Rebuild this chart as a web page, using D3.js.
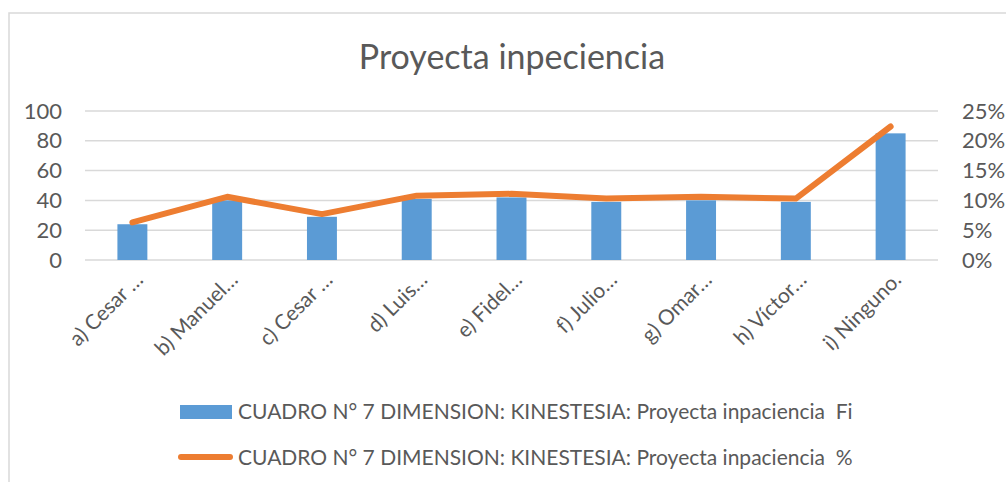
<!DOCTYPE html>
<html>
<head>
<meta charset="utf-8">
<script src="https://cdn.jsdelivr.net/npm/d3@7"></script>
<style>
  body { margin: 0; background: #fff; }
  text { font-family: Lato, "Open Sans", sans-serif; fill: #595959; white-space: pre; }
</style>
</head>
<body>
<svg id="chart" width="1006" height="482"></svg>
<script>
// data
var categories = ["a) Cesar \u2026", "b) Manuel\u2026", "c) Cesar \u2026", "d) Luis\u2026", "e) Fidel\u2026",
                  "f) Julio\u2026", "g) Omar\u2026", "h) V\u00edctor\u2026", "i) Ninguno."];
var fiValues = [24, 40, 29, 41, 42, 39, 40, 39, 85];
var pctValues = [6.3, 10.6, 7.7, 10.8, 11.1, 10.3, 10.6, 10.3, 22.4];
var leftTicks = [0, 20, 40, 60, 80, 100];
var rightTicks = [0, 5, 10, 15, 20, 25];
var seriesNames = ["CUADRO N\u00b0 7 DIMENSION: KINESTESIA: Proyecta inpaciencia  Fi",
                   "CUADRO N\u00b0 7 DIMENSION: KINESTESIA: Proyecta inpaciencia  %"];
var title = "Proyecta inpeciencia";

var margin = {top: 111, right: 68, bottom: 222, left: 85},
    width = 1006 - margin.left - margin.right,
    height = 482 - margin.top - margin.bottom;

var svg = d3.select("#chart");

// chart frame (runs off the right and bottom of the picture)
svg.append("rect")
  .attr("x", 9).attr("y", 13)
  .attr("width", 1100).attr("height", 600)
  .attr("fill", "none")
  .attr("stroke", "#d9d9d9")
  .attr("stroke-width", 1.5);

svg.append("text")
  .attr("x", 512).attr("y", 69)
  .attr("text-anchor", "middle")
  .style("font-size", "34px")
  .text(title);

var g = svg.append("g")
  .attr("transform", "translate(" + margin.left + "," + margin.top + ")");

var x = d3.scaleBand()
  .domain(categories)
  .range([0, width])
  .paddingInner(0.684)
  .paddingOuter(0.342);

var y = d3.scaleLinear().domain([0, 100]).range([height, 0]);
var y2 = d3.scaleLinear().domain([0, 25]).range([height, 0]);

// gridlines
g.append("g")
  .selectAll("line")
  .data(leftTicks)
  .enter()
  .append("line")
    .attr("x1", 0).attr("x2", width)
    .attr("y1", function (d) { return y(d); })
    .attr("y2", function (d) { return y(d); })
    .attr("stroke", "#d9d9d9")
    .attr("stroke-width", 1.5);

// left axis
var yAxis = g.append("g")
  .call(d3.axisLeft(y).tickValues(leftTicks).tickSize(0).tickPadding(23));
yAxis.select(".domain").remove();
yAxis.selectAll("text")
  .style("font-size", "22px")
  .style("fill", "#595959")
  .style("font-family", "Lato, sans-serif");

// right axis
var yAxis2 = g.append("g")
  .attr("transform", "translate(" + width + ",0)")
  .call(d3.axisRight(y2).tickValues(rightTicks).tickSize(0).tickPadding(24)
    .tickFormat(function (d) { return d + "%"; }));
yAxis2.select(".domain").remove();
yAxis2.selectAll("text")
  .style("font-size", "22px")
  .style("fill", "#595959")
  .style("font-family", "Lato, sans-serif");

// category labels, rotated
g.append("g")
  .selectAll("text")
  .data(categories)
  .enter()
  .append("text")
    .attr("transform", function (d) {
      return "translate(" + (x(d) + x.bandwidth() / 2 + 12) + "," + (height + 21) + ") rotate(-45)";
    })
    .attr("text-anchor", "end")
    .style("font-size", "21px")
    .text(function (d) { return d; });

// bars
g.append("g")
  .selectAll("rect")
  .data(fiValues)
  .enter()
  .append("rect")
    .attr("x", function (d, i) { return x(categories[i]); })
    .attr("y", function (d) { return y(d); })
    .attr("width", x.bandwidth())
    .attr("height", function (d) { return height - y(d); })
    .attr("fill", "#5b9bd5");

// line
var line = d3.line()
  .x(function (d, i) { return x(categories[i]) + x.bandwidth() / 2; })
  .y(function (d) { return y2(d); });

g.append("path")
  .datum(pctValues)
  .attr("d", line)
  .attr("fill", "none")
  .attr("stroke", "#ed7d31")
  .attr("stroke-width", 6)
  .attr("stroke-linecap", "round")
  .attr("stroke-linejoin", "round");

// legend
var legend = svg.append("g");
legend.append("rect")
  .attr("x", 180).attr("y", 405)
  .attr("width", 52).attr("height", 14)
  .attr("fill", "#5b9bd5");
legend.append("text")
  .attr("x", 238).attr("y", 419)
  .style("font-size", "21px")
  .text(seriesNames[0]);

legend.append("line")
  .attr("x1", 181).attr("x2", 230)
  .attr("y1", 457).attr("y2", 457)
  .attr("stroke", "#ed7d31")
  .attr("stroke-width", 6)
  .attr("stroke-linecap", "round");
legend.append("text")
  .attr("x", 238).attr("y", 465)
  .style("font-size", "21px")
  .text(seriesNames[1]);
</script>
</body>
</html>
